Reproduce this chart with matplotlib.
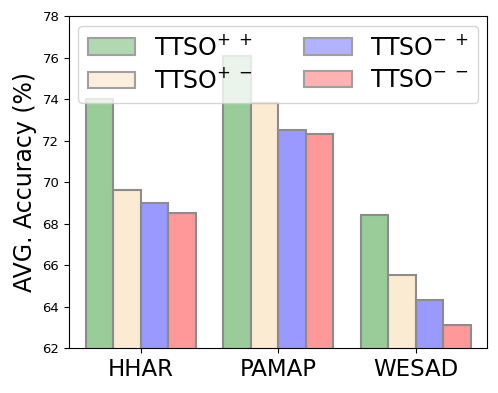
import matplotlib
matplotlib.use('Agg')
import matplotlib.pyplot as plt
import numpy as np
from matplotlib.patches import Patch

datasets = ['HHAR', 'PAMAP', 'WESAD']
labels = [r'TTSO$^{+\;+}$', r'TTSO$^{+\;-}$', r'TTSO$^{-\;+}$', r'TTSO$^{-\;-}$']
pp = [74.0, 76.1, 68.4]
pm = [69.6, 73.8, 65.5]
mp_ = [69.0, 72.5, 64.3]
mm = [68.5, 72.3, 63.1]
series = [pp, pm, mp_, mm]
colors = ['green', '#f7cd8f', 'blue', 'red']

fig = plt.figure(figsize=(4.98, 3.93), dpi=100)
ax = fig.add_axes([0.1386, 0.1145, 0.8394, 0.8445])

x = np.arange(len(datasets))
w = 0.2
for i, vals in enumerate(series):
    fc = matplotlib.colors.to_rgba(colors[i], 0.4)
    ax.bar(x + (i - 1.5) * w, vals, w, color=fc, edgecolor='#8c8c8c', linewidth=1.5)

handles = [Patch(facecolor=matplotlib.colors.to_rgba(c, 0.3), edgecolor='#a0a0a0', linewidth=1.5, label=l)
           for c, l in zip(colors, labels)]
ax.legend(handles=handles, ncol=2, loc='upper left', fontsize=17, framealpha=0.8,
          handlelength=2.0, columnspacing=2.2, borderaxespad=0.4, labelspacing=0.35)

ax.set_ylim(62, 78)
ax.set_yticks(range(62, 79, 2))
ax.set_xlim(-0.52, 2.52)
ax.set_xticks(x)
ax.set_xticklabels(datasets, fontsize=16.5)
ax.tick_params(axis='y', labelsize=9.5)
ax.set_ylabel('AVG. Accuracy (%)', fontsize=17)

fig.savefig('out.png', dpi=100)
